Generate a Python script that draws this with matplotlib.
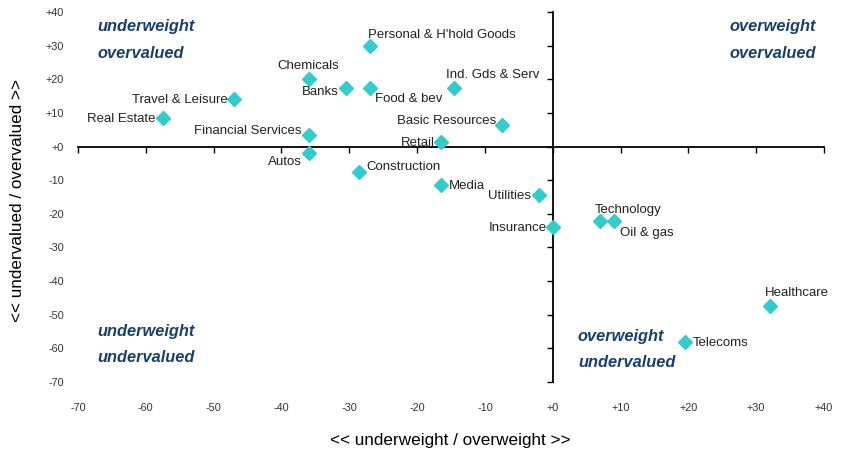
import matplotlib
matplotlib.use("Agg")
import matplotlib.pyplot as plt
from matplotlib import font_manager
import matplotlib.transforms as mtransforms

# pick a condensed font if present
names = set(f.name for f in font_manager.fontManager.ttflist)
label_font = "Liberation Sans Narrow" if "Liberation Sans Narrow" in names else "Liberation Sans"

# sector positioning vs valuation
sectors = ["Personal & H'hold Goods", "Chemicals", "Banks", "Food & bev", "Travel & Leisure",
           "Real Estate", "Financial Services", "Autos", "Construction", "Ind. Gds & Serv",
           "Basic Resources", "Retail", "Media", "Utilities", "Insurance", "Technology",
           "Oil & gas", "Healthcare", "Telecoms"]
weight = [-27, -36, -30.5, -27, -47, -57.5, -36, -36, -28.5, -14.5,
          -7.5, -16.5, -16.5, -2, 0, 7, 9, 32, 19.5]
valuation = [30, 20, 17.5, 17.5, 14, 8.5, 3.5, -2, -7.5, 17.5,
             6.5, 1.5, -11.5, -14.5, -24, -22, -22, -47.5, -58]

xticks = list(range(-70, 41, 10))
yticks = list(range(-70, 41, 10))

# label placement: (dx, dy) in pixels, ha, va
label_pos = {
    "Personal & H'hold Goods": (-2, 6, "left", "bottom"),
    "Chemicals": (0, 8, "center", "bottom"),
    "Banks": (-7, -3, "right", "center"),
    "Food & bev": (5, -4, "left", "top"),
    "Travel & Leisure": (-6, 0, "right", "center"),
    "Real Estate": (-7, 0, "right", "center"),
    "Financial Services": (-7, 5, "right", "center"),
    "Autos": (-7, -8, "right", "center"),
    "Construction": (7, 6, "left", "center"),
    "Ind. Gds & Serv": (-8, 8, "left", "bottom"),
    "Basic Resources": (-6, 5, "right", "center"),
    "Retail": (-6, 0, "right", "center"),
    "Media": (8, 0, "left", "center"),
    "Utilities": (-8, 0, "right", "center"),
    "Insurance": (-6, 0, "right", "center"),
    "Technology": (-5, 6, "left", "bottom"),
    "Oil & gas": (6, -5, "left", "top"),
    "Healthcare": (-5, 8, "left", "bottom"),
    "Telecoms": (8, 0, "left", "center"),
}

fig = plt.figure(figsize=(8.48, 4.56), dpi=100)
ax = fig.add_axes([78/848, 1-383/456, (824-78)/848, (383-13)/456])
ax.set_xlim(-70, 40)
ax.set_ylim(-70, 40)

for s in ["top", "right"]:
    ax.spines[s].set_visible(False)
ax.spines["left"].set_position(("data", 0))
ax.spines["bottom"].set_position(("data", 0))
for s in ["left", "bottom"]:
    ax.spines[s].set_color("black")
    ax.spines[s].set_linewidth(1.3)
ax.set_xticks(xticks)
ax.set_yticks(yticks)
ax.tick_params(axis="x", direction="out", length=4, width=1, labelbottom=False)
ax.tick_params(axis="y", direction="out", length=4, width=1, labelleft=False)

def fmt(v):
    return "+%d" % v if v >= 0 else "%d" % v

# tick labels sit at the frame edge, not at the spines
tx = mtransforms.blended_transform_factory(ax.transData, ax.transAxes)
ty = mtransforms.blended_transform_factory(ax.transAxes, ax.transData)
for v in xticks:
    ax.text(v, -0.068, fmt(v), transform=tx, ha="center", va="center",
            fontsize=7.8, family=label_font, color="#333333")
for v in yticks:
    ax.text(-0.019, v, fmt(v), transform=ty, ha="right", va="center",
            fontsize=7.8, family=label_font, color="#333333")

ax.plot(weight, valuation, linestyle="none", marker="D", markersize=7,
        color="#33CCCC", zorder=3)

for name, x, y in zip(sectors, weight, valuation):
    dx, dy, ha, va = label_pos[name]
    ax.annotate(name, (x, y), xytext=(dx * 0.72, dy * 0.72), textcoords="offset points",
                ha=ha, va=va, fontsize=9.5, family=label_font, color="#222222")

qstyle = dict(fontsize=11.8, family="Liberation Sans", style="italic", weight="bold",
              color="#17406F", transform=ax.transAxes)
ax.text(0.026, 0.963, "underweight", ha="left", va="center", **qstyle)
ax.text(0.026, 0.89, "overvalued", ha="left", va="center", **qstyle)
ax.text(0.989, 0.963, "overweight", ha="right", va="center", **qstyle)
ax.text(0.989, 0.89, "overvalued", ha="right", va="center", **qstyle)
ax.text(0.026, 0.14, "underweight", ha="left", va="center", **qstyle)
ax.text(0.026, 0.068, "undervalued", ha="left", va="center", **qstyle)
ax.text(0.67, 0.125, "overweight", ha="left", va="center", **qstyle)
ax.text(0.67, 0.055, "undervalued", ha="left", va="center", **qstyle)

fig.text(450/848, 1-441/456, "<< underweight / overweight >>", ha="center", va="center",
         fontsize=12.3, family=label_font, color="black")
fig.text(18/848, 1-200/456, "<< undervalued / overvalued >>", ha="center", va="center",
         rotation=90, fontsize=12.3, family=label_font, color="black")

fig.savefig("out.png", dpi=100)
